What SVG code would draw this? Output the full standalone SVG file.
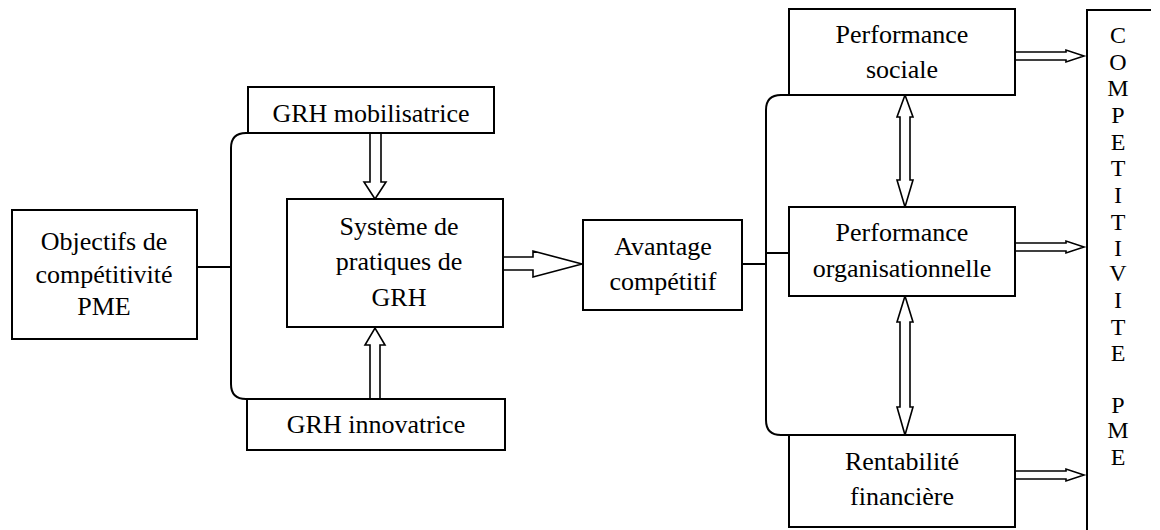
<svg xmlns="http://www.w3.org/2000/svg" width="1160" height="530" viewBox="0 0 1160 530">
<style>
.box{fill:#fff;stroke:#000;stroke-width:2}
.ln{fill:none;stroke:#000;stroke-width:2}
.ar{fill:#fff;stroke:#000;stroke-width:1.6;stroke-linejoin:miter}
.t{font-size:26px;fill:#000;text-anchor:middle}
.v{font-size:24px}
</style>
<rect width="1160" height="530" fill="#fff"/>
<g id="connectors">
<path class="ln" d="M197 267 H231"/>
<path class="ln" d="M248 133 H246 Q231 133 231 148 V384 Q231 399 246 399 H248"/>
<path class="ln" d="M742 264 H766"/>
<path class="ln" d="M789 95 H781 Q766 95 766 110 V420 Q766 435 781 435 H789"/>
<path class="ln" d="M766 253 H789"/>
<polygon class="ar" points="370,133 370,182 364,182 375,199 386,182 381,182 381,133"/>
<polygon class="ar" points="370,399 370,345 365,345 375,328 385,345 380,345 380,399"/>
<polygon class="ar" points="503,257 533,257 533,251 582,264 533,277 533,270 503,270"/>
<polygon class="ar" points="905,95 913,117 910,117 910,180 913,180 905,207 897,180 900,180 900,117 897,117"/>
<polygon class="ar" points="905,296 913,322 910,322 910,407 913,407 905,435 897,407 900,407 900,322 897,322"/>
<polygon class="ar" points="1015,52 1066,52 1066,50 1084,56 1066,62 1066,60 1015,60"/>
<polygon class="ar" points="1015,243 1066,243 1066,241 1084,247 1066,253 1066,251 1015,251"/>
<polygon class="ar" points="1015,471 1066,471 1066,469 1084,475 1066,481 1066,479 1015,479"/>
</g>
<g font-family="Liberation Serif, Times New Roman, DejaVu Serif, serif">
<g id="objectifs">
<rect class="box" x="12" y="210" width="185" height="129"/>
<text class="t" x="104" y="250">Objectifs de</text>
<text class="t" x="104" y="283">compétitivité</text>
<text class="t" x="104" y="315">PME</text>
</g>
<g id="grh-mobilisatrice">
<rect class="box" x="248" y="87" width="246" height="46"/>
<text class="t" x="371" y="122">GRH mobilisatrice</text>
</g>
<g id="systeme">
<rect class="box" x="287" y="199" width="216" height="128"/>
<text class="t" x="399" y="235">Système de</text>
<text class="t" x="399" y="270">pratiques de</text>
<text class="t" x="399" y="306">GRH</text>
</g>
<g id="grh-innovatrice">
<rect class="box" x="247" y="399" width="258" height="51"/>
<text class="t" x="376" y="433">GRH innovatrice</text>
</g>
<g id="avantage">
<rect class="box" x="583" y="220" width="159" height="90"/>
<text class="t" x="663" y="255">Avantage</text>
<text class="t" x="663" y="290">compétitif</text>
</g>
<g id="perf-sociale">
<rect class="box" x="789" y="9" width="226" height="86"/>
<text class="t" x="902" y="43">Performance</text>
<text class="t" x="902" y="78">sociale</text>
</g>
<g id="perf-organisationnelle">
<rect class="box" x="789" y="207" width="226" height="89"/>
<text class="t" x="902" y="241">Performance</text>
<text class="t" x="902" y="277">organisationnelle</text>
</g>
<g id="rentabilite">
<rect class="box" x="789" y="435" width="226" height="92"/>
<text class="t" x="902" y="470">Rentabilité</text>
<text class="t" x="902" y="505">financière</text>
</g>
<g id="competitivite">
<path class="ln" d="M1151 10 H1087 V531"/>
<text class="t v" x="1118" y="43">C</text>
<text class="t v" x="1118" y="70">O</text>
<text class="t v" x="1118" y="96">M</text>
<text class="t v" x="1118" y="123">P</text>
<text class="t v" x="1118" y="150">E</text>
<text class="t v" x="1118" y="176">T</text>
<text class="t v" x="1118" y="203">I</text>
<text class="t v" x="1118" y="230">T</text>
<text class="t v" x="1118" y="256">I</text>
<text class="t v" x="1118" y="281">V</text>
<text class="t v" x="1118" y="308">I</text>
<text class="t v" x="1118" y="335">T</text>
<text class="t v" x="1118" y="361">E</text>
<text class="t v" x="1118" y="413">P</text>
<text class="t v" x="1118" y="438">M</text>
<text class="t v" x="1118" y="465">E</text>
</g>
</g>
</svg>
